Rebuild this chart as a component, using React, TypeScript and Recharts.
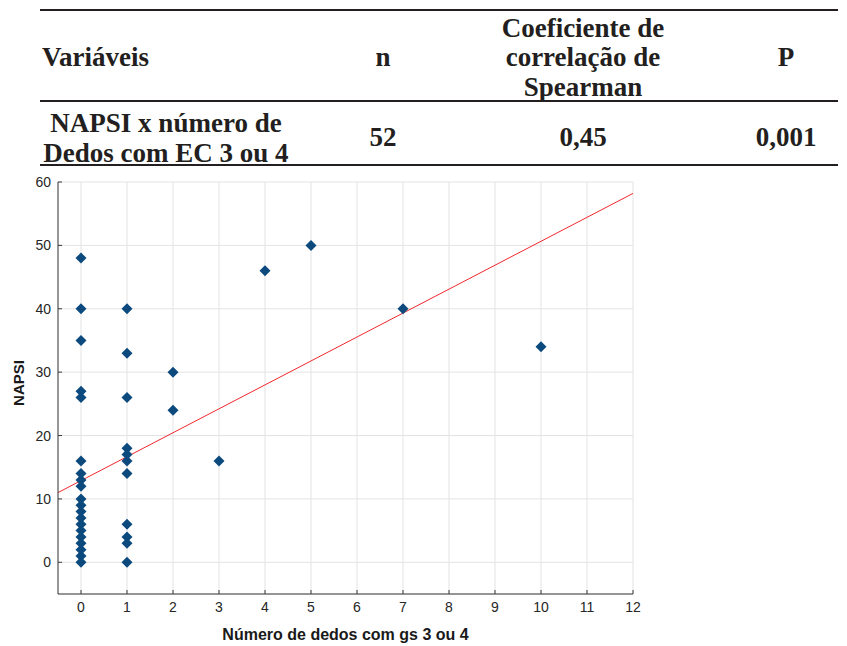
import React from 'react';
import {
  ScatterChart,
  Scatter,
  XAxis,
  YAxis,
  CartesianGrid,
  ReferenceLine,
} from 'recharts';

// number of fingers with grade 3 or 4 (x) and NAPSI score (y), one entry per visible point
const dedos = [
  0, 0, 0, 0, 0, 0, 0, 0, 0, 0, 0, 0, 0, 0, 0, 0, 0, 0, 0, 0,
  1, 1, 1, 1, 1, 1, 1, 1, 1, 1, 1,
  2, 2, 3, 4, 5, 7, 10,
];
const napsi = [
  0, 1, 2, 3, 4, 5, 6, 7, 8, 9, 10, 12, 13, 14, 16, 26, 27, 35, 40, 48,
  0, 3, 4, 6, 14, 16, 17, 18, 26, 33, 40,
  24, 30, 16, 46, 50, 40, 34,
];

// fitted line, read at both ends of the plot
const fitX = [-0.5, 12];
const fitY = [11.0, 58.2];

const xTicks = [0, 1, 2, 3, 4, 5, 6, 7, 8, 9, 10, 11, 12];
const yTicks = [0, 10, 20, 30, 40, 50, 60];

const headers = ['Variáveis', 'n', 'Coeficiente de correlação de Spearman', 'P'];
const rowValues = ['NAPSI x número de Dedos com EC 3 ou 4', '52', '0,45', '0,001'];

const points = dedos.map((x, i) => ({ x, y: napsi[i] }));

const BLUE = '#0c4a7e';
const serif = "'Liberation Serif', 'Times New Roman', serif";
const sans = "'Liberation Sans', Arial, sans-serif";

const Diamond = (props: any) => {
  const { cx, cy } = props;
  const r = 5.5;
  return (
    <path
      d={`M${cx},${cy - r}L${cx + r},${cy}L${cx},${cy + r}L${cx - r},${cy}Z`}
      fill={BLUE}
    />
  );
};

const YLabel = (props: any) => {
  const vb = props.viewBox || { x: 0, y: 182, width: 58, height: 412 };
  const x = vb.x + 18;
  const y = vb.y + vb.height / 2 - 5;
  return (
    <text
      x={x}
      y={y}
      transform={`rotate(-90 ${x} ${y})`}
      textAnchor="middle"
      dominantBaseline="central"
      fontFamily={sans}
      fontWeight="bold"
      fontSize={15}
      fill="#1a1a1a"
    >
      NAPSI
    </text>
  );
};

function Table() {
  const txt = {
    fontFamily: serif,
    fontWeight: 'bold' as const,
    fontSize: 27,
    fill: '#231f20',
  };
  const coef = headers[2].split(' ');
  const label = rowValues[0].split(' ');
  return (
    <svg width={847} height={170} style={{ position: 'absolute', left: 0, top: 0 }}>
      <line x1={40} x2={838} y1={10} y2={10} stroke="#231f20" strokeWidth={2} />
      <line x1={40} x2={838} y1={101} y2={101} stroke="#231f20" strokeWidth={2} />
      <line x1={40} x2={838} y1={165} y2={165} stroke="#231f20" strokeWidth={2} />

      <text x={42} y={66} {...txt}>{headers[0]}</text>
      <text x={383} y={66} textAnchor="middle" {...txt}>{headers[1]}</text>
      <text x={583} y={37} textAnchor="middle" {...txt}>{coef.slice(0, 2).join(' ')}</text>
      <text x={583} y={66} textAnchor="middle" {...txt}>{coef.slice(2, 4).join(' ')}</text>
      <text x={583} y={96} textAnchor="middle" {...txt}>{coef.slice(4).join(' ')}</text>
      <text x={786} y={66} textAnchor="middle" {...txt}>{headers[3]}</text>

      <text x={166} y={132} textAnchor="middle" {...txt}>{label.slice(0, 4).join(' ')}</text>
      <text x={166} y={162} textAnchor="middle" {...txt}>{label.slice(4).join(' ')}</text>
      <text x={383} y={146} textAnchor="middle" {...txt}>{rowValues[1]}</text>
      <text x={583} y={146} textAnchor="middle" {...txt}>{rowValues[2]}</text>
      <text x={786} y={146} textAnchor="middle" {...txt}>{rowValues[3]}</text>
    </svg>
  );
}

export default function App() {
  return (
    <div
      style={{
        position: 'absolute',
        left: 0,
        top: 0,
        width: 847,
        height: 646,
        background: '#fff',
        fontFamily: sans,
      }}
    >
      <Table />
      <div style={{ position: 'absolute', left: 0, top: 0 }}>
        <ScatterChart
          width={847}
          height={646}
          margin={{ top: 182, right: 214, bottom: 0, left: 0 }}
        >
          <CartesianGrid stroke="#e3e3e3" strokeWidth={1} />
          <XAxis
            type="number"
            dataKey="x"
            domain={[-0.5, 12]}
            ticks={xTicks}
            allowDataOverflow
            height={52}
            axisLine={{ stroke: '#3a3a3a' }}
            tickLine={{ stroke: '#3a3a3a' }}
            tickSize={-4}
            tickMargin={12}
            tick={{ fontSize: 14, fill: '#262626', fontFamily: sans }}
            label={{
              value: 'Número de dedos com gs 3 ou 4',
              position: 'insideBottom',
              offset: 6,
              fontSize: 16,
              fontWeight: 'bold',
              fill: '#1a1a1a',
              fontFamily: sans,
            }}
          />
          <YAxis
            type="number"
            dataKey="y"
            domain={[-5, 60]}
            ticks={yTicks}
            allowDataOverflow
            width={58}
            axisLine={{ stroke: '#3a3a3a' }}
            tickLine={{ stroke: '#3a3a3a' }}
            tickSize={-4}
            tickMargin={11}
            tick={{ fontSize: 14, fill: '#262626', fontFamily: sans }}
            label={<YLabel />}
          />
          <Scatter data={points} shape={<Diamond />} isAnimationActive={false} />
          <ReferenceLine
            segment={[
              { x: fitX[0], y: fitY[0] },
              { x: fitX[1], y: fitY[1] },
            ]}
            stroke="#f0282d"
            strokeWidth={1}
          />
        </ScatterChart>
      </div>
    </div>
  );
}
